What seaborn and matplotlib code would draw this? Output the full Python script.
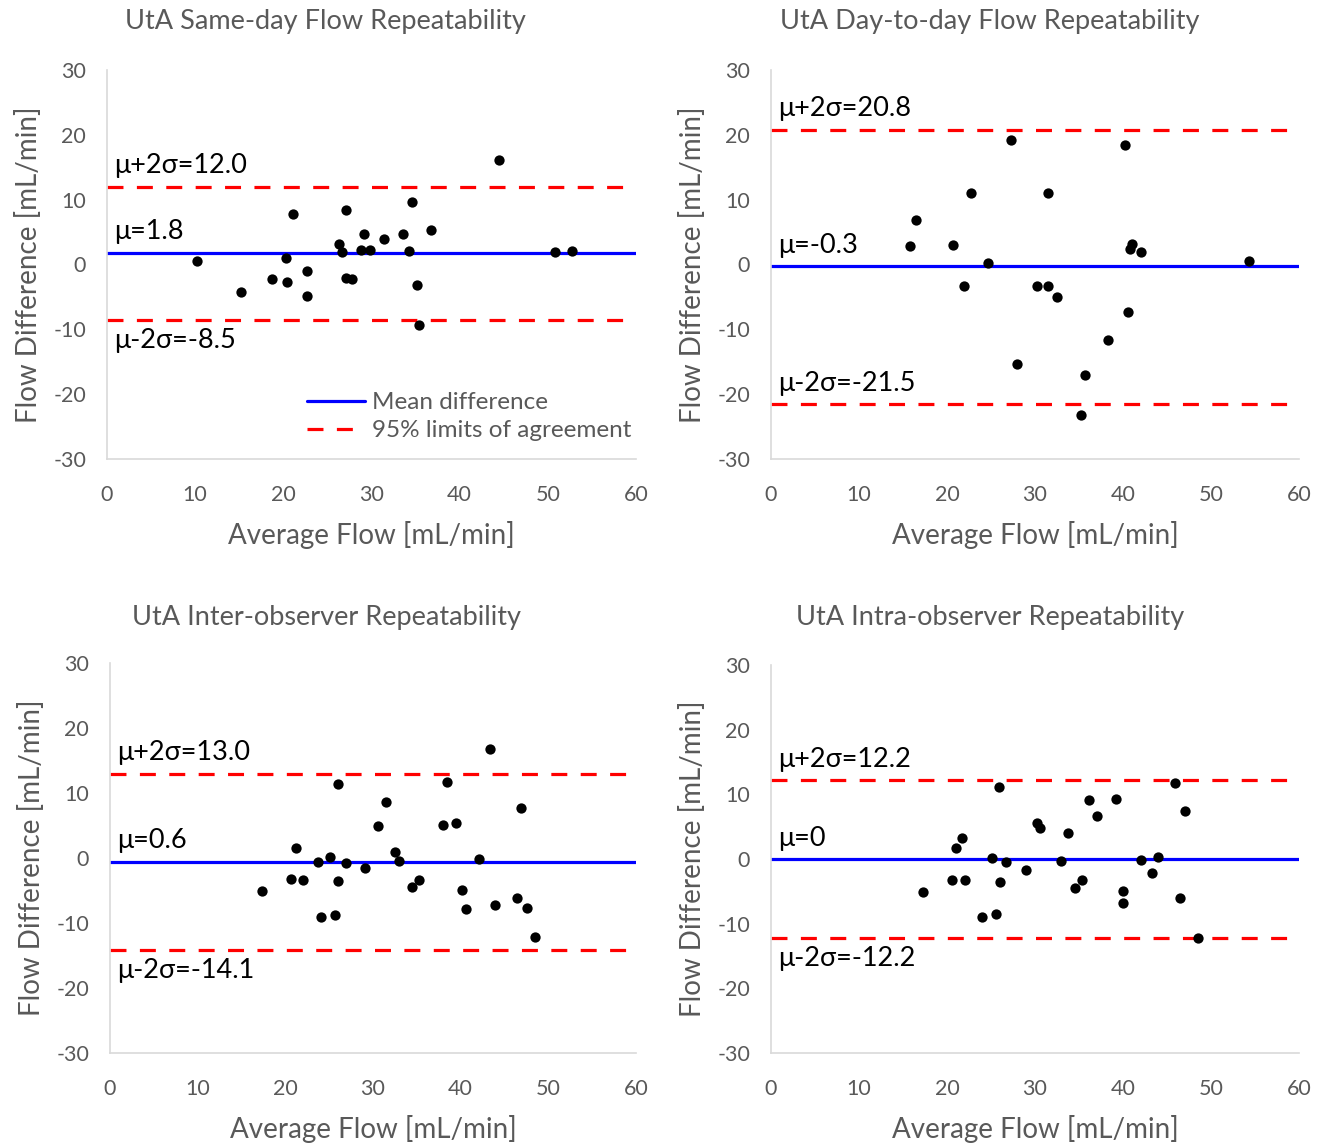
import numpy as np
import pandas as pd
import seaborn as sns
import matplotlib.pyplot as plt
from matplotlib.lines import Line2D

#panel data
sameday_avg = [44.5, 34.65, 21.1, 27.1, 36.8, 29.1, 31.4, 33.6, 26.3, 26.7, 28.8, 29.8, 34.3,
               50.8, 52.75, 10.25, 20.3, 22.7, 18.7, 20.45, 27.1, 27.8, 35.2, 15.15, 22.7, 35.4]
sameday_diff = [16.1, 9.7, 7.8, 8.4, 5.3, 4.7, 4.0, 4.7, 3.1, 1.9, 2.3, 2.3, 2.1,
                1.9, 2.1, 0.5, 0.95, -1.0, -2.2, -2.65, -2.1, -2.3, -3.2, -4.3, -4.8, -9.3]

daytoday_avg = [27.3, 40.2, 22.75, 31.5, 16.5, 15.8, 20.7, 41.0, 40.8, 42.0, 54.3, 24.65, 21.9,
                30.2, 31.5, 32.45, 40.6, 38.3, 27.9, 35.7, 35.2]
daytoday_diff = [19.15, 18.5, 11.0, 11.0, 6.8, 2.9, 3.05, 3.1, 2.4, 2.0, 0.6, 0.2, -3.35,
                 -3.35, -3.35, -5.0, -7.4, -11.65, -15.4, -17.0, -23.2]

inter_avg = [43.3, 38.4, 26.0, 31.5, 46.9, 38.0, 39.5, 30.6, 21.2, 32.5, 33.0, 25.1, 23.7, 26.9, 42.1,
             29.1, 20.6, 22.0, 26.0, 35.3, 34.5, 17.3, 40.1, 40.6, 43.9, 46.4, 47.6, 24.1, 25.7, 48.5]
inter_diff = [16.8, 11.65, 11.35, 8.65, 7.7, 5.15, 5.35, 4.85, 1.6, 0.85, -0.5, 0.15, -0.6, -0.8, -0.15,
              -1.6, -3.25, -3.35, -3.5, -3.35, -4.5, -5.15, -4.9, -7.8, -7.2, -6.1, -7.7, -9.0, -8.7, -12.2]

intra_avg = [45.9, 25.9, 36.1, 39.2, 47.0, 37.0, 30.2, 30.6, 33.8, 21.65, 21.0, 25.1, 26.7, 32.9, 42.0,
             43.95, 29.0, 43.25, 20.55, 22.0, 26.0, 35.3, 34.6, 17.3, 40.0, 40.0, 46.5, 24.0, 25.6, 48.5]
intra_diff = [11.7, 11.2, 9.1, 9.25, 7.45, 6.6, 5.5, 4.85, 4.0, 3.25, 1.7, 0.2, -0.4, -0.25, -0.15,
              0.35, -1.75, -2.2, -3.3, -3.3, -3.5, -3.3, -4.5, -5.15, -4.9, -6.75, -6.05, -9.0, -8.5, -12.2]

titles = ["UtA Same-day Flow Repeatability", "UtA Day-to-day Flow Repeatability",
          "UtA Inter-observer Repeatability", "UtA Intra-observer Repeatability"]
means = [1.8, -0.3, -0.55, 0.0]
upper = [12.0, 20.8, 13.0, 12.2]
lower = [-8.5, -21.5, -14.1, -12.2]
mean_labels = ["μ=1.8", "μ=-0.3", "μ=0.6", "μ=0"]
upper_labels = ["μ+2σ=12.0", "μ+2σ=20.8", "μ+2σ=13.0", "μ+2σ=12.2"]
lower_labels = ["μ-2σ=-8.5", "μ-2σ=-21.5", "μ-2σ=-14.1", "μ-2σ=-12.2"]
lower_above = [False, True, False, False]

panels = [(sameday_avg, sameday_diff), (daytoday_avg, daytoday_diff),
          (inter_avg, inter_diff), (intra_avg, intra_diff)]

sns.set_theme(style="white")
plt.rcParams['font.family'] = ['Lato', 'DejaVu Sans']
plt.rcParams['axes.unicode_minus'] = False
gray = '#595959'
dash = (0, (5, 4.2))

fig = plt.figure(figsize=(13.31, 11.46), dpi=100)
W, H = 1331, 1146
#axes boxes in pixels: left, top, right, bottom
boxes = [(107, 70, 636, 459), (771, 70, 1299, 459), (110, 663, 636, 1053), (771, 665, 1299, 1053)]
title_pos = [(325, 22), (990, 22), (327, 617), (990, 617)]

for i, (xs, ys) in enumerate(panels):
    l, t, r, b = boxes[i]
    ax = fig.add_axes([l / W, 1 - b / H, (r - l) / W, (b - t) / H])
    df = pd.DataFrame({'avg': xs, 'diff': ys})
    ax.axhline(means[i], color='#0000ff', lw=2.3, zorder=2)
    ax.axhline(upper[i], color='#ff0000', lw=2.3, ls=dash, zorder=2)
    ax.axhline(lower[i], color='#ff0000', lw=2.3, ls=dash, zorder=2)
    sns.scatterplot(data=df, x='avg', y='diff', ax=ax, color='black', s=55, edgecolor='black',
                    linewidth=0, zorder=3)
    ax.set_xlim(0, 60)
    ax.set_ylim(-30, 30)
    ax.set_xticks(range(0, 61, 10))
    ax.set_yticks(range(-30, 31, 10))
    ax.tick_params(axis='x', labelsize=15.5, labelcolor=gray, length=0, pad=19)
    ax.tick_params(axis='y', labelsize=15.5, labelcolor=gray, length=0, pad=15)
    ax.set_xlabel('Average Flow [mL/min]', fontsize=20, color=gray, labelpad=11)
    ax.set_ylabel('Flow Difference [mL/min]', fontsize=20, color=gray, labelpad=8)
    for s in ['top', 'right']:
        ax.spines[s].set_visible(False)
    for s in ['left', 'bottom']:
        ax.spines[s].set_color('#d9d9d9')
        ax.spines[s].set_linewidth(1.2)

    #labels for the mean and limits
    ax.annotate(upper_labels[i], xy=(0, upper[i]), xytext=(5, 6), textcoords='offset points',
                fontsize=19.5, va='bottom', ha='left', color='black')
    ax.annotate(mean_labels[i], xy=(0, means[i]), xytext=(5, 6), textcoords='offset points',
                fontsize=19.5, va='bottom', ha='left', color='black')
    if lower_above[i]:
        ax.annotate(lower_labels[i], xy=(0, lower[i]), xytext=(5, 6), textcoords='offset points',
                    fontsize=19.5, va='bottom', ha='left', color='black')
    else:
        ax.annotate(lower_labels[i], xy=(0, lower[i]), xytext=(5, -6), textcoords='offset points',
                    fontsize=19.5, va='top', ha='left', color='black')

    fig.text(title_pos[i][0] / W, 1 - title_pos[i][1] / H, titles[i], fontsize=19.5, color=gray,
             ha='center', va='center')

    if i == 0:
        handles = [Line2D([], [], color='#0000ff', lw=2.3),
                   Line2D([], [], color='#ff0000', lw=2.3, ls=dash)]
        leg = ax.legend(handles, ['Mean difference', '95% limits of agreement'], loc='lower right',
                        bbox_to_anchor=(1.01, 0.02), frameon=False, fontsize=17.5,
                        handlelength=2.4, handletextpad=0.3, labelspacing=0.3, borderaxespad=0)
        for txt in leg.get_texts():
            txt.set_color(gray)

fig.savefig('out.png', dpi=100)
